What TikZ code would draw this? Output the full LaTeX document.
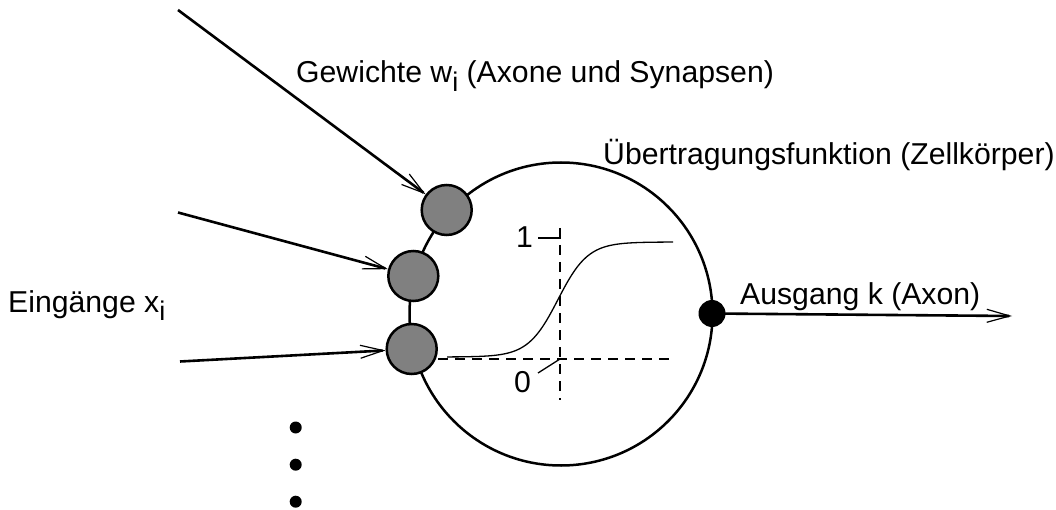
\documentclass[tikz,border=0pt]{standalone}
\usepackage{fontspec}
\setmainfont{Liberation Sans}
\usetikzlibrary{arrows.meta}
\definecolor{syngray}{HTML}{808080}
\tikzset{
  lbl/.style={font=\fontsize{30.2}{35}\selectfont, inner sep=0pt, anchor=base west},
  syn/.style={circle, draw, line width=2.5pt, fill=syngray, minimum size=50pt, inner sep=0pt},
  inarrow/.style={line width=2.6pt, -{Straight Barb[length=23pt,width=13pt,line width=1.2pt]}},
  axis/.style={line width=1.3pt, dash pattern=on 10pt off 7pt},
  thin/.style={line width=1.3pt},
  bigdot/.style={circle, fill=black, minimum size=27pt, inner sep=0pt},
  smalldot/.style={circle, fill=black, minimum size=12pt, inner sep=0pt}
}
\newcommand{\subi}{\raisebox{-9pt}{\fontsize{27}{30}\selectfont i}}
\begin{document}
\begin{tikzpicture}[x=1pt,y=-1pt]
\useasboundingbox (0,0) rectangle (1056,510);
% cell body
\node[circle, draw, line width=2.5pt, minimum size=303pt, inner sep=0pt] (body) at (561,314) {};
% synapses
\node[syn] (s1) at (446.7,210) {};
\node[syn] (s2) at (413.3,276) {};
\node[syn] (s3) at (411.7,349) {};
% input arrows
\coordinate (i1) at (178,10);
\coordinate (i2) at (178,212.5);
\coordinate (i3) at (180,361.5);
\draw[inarrow] (i1) -- (s1);
\draw[inarrow] (i2) -- (s2);
\draw[inarrow] (i3) -- (s3);
% axes
\coordinate (vtop) at (560,228);
\coordinate (vbot) at (560,400);
\coordinate (hl) at (438,359);
\coordinate (hr) at (676,359);
\draw[axis] (vtop) -- (vbot);
\draw[axis] (hl) -- (hr);
% ticks and labels
\node[lbl] (one) at (516,248) {1};
\node[lbl] (zero) at (514,392) {0};
\coordinate (t1a) at (538,238);
\coordinate (t1b) at (560,238);
\coordinate (t0a) at (538,373);
\coordinate (t0b) at (560,359);
\draw[thin] (t1a) -- (t1b) -- (vtop);
\draw[thin] (t0a) -- (t0b);
% sigmoid
\draw[thin, domain=447:673, samples=120, smooth] plot (\x, {357 - 115/(1+exp(-(\x-558)/15))});
% output
\node[bigdot] (out) at (712,313.5) {};
\coordinate (oend) at (1012,316);
\draw[inarrow] (out.center) -- (oend);
% dots
\node[smalldot] (d1) at (295.7,427.5) {};
\node[smalldot] (d2) at (295.7,464.7) {};
\node[smalldot] (d3) at (295.7,501.7) {};
% labels
\node[lbl] (gew) at (296,83) {Gewichte w\subi{} (Axone und Synapsen)};
\node[lbl] (uebt) at (603,165) {Übertragungsfunktion (Zellkörper)};
\node[lbl] (ein) at (8,312) {Eingänge x\subi};
\node[lbl] (aus) at (740,305) {Ausgang k (Axon)};
\end{tikzpicture}
\end{document}
